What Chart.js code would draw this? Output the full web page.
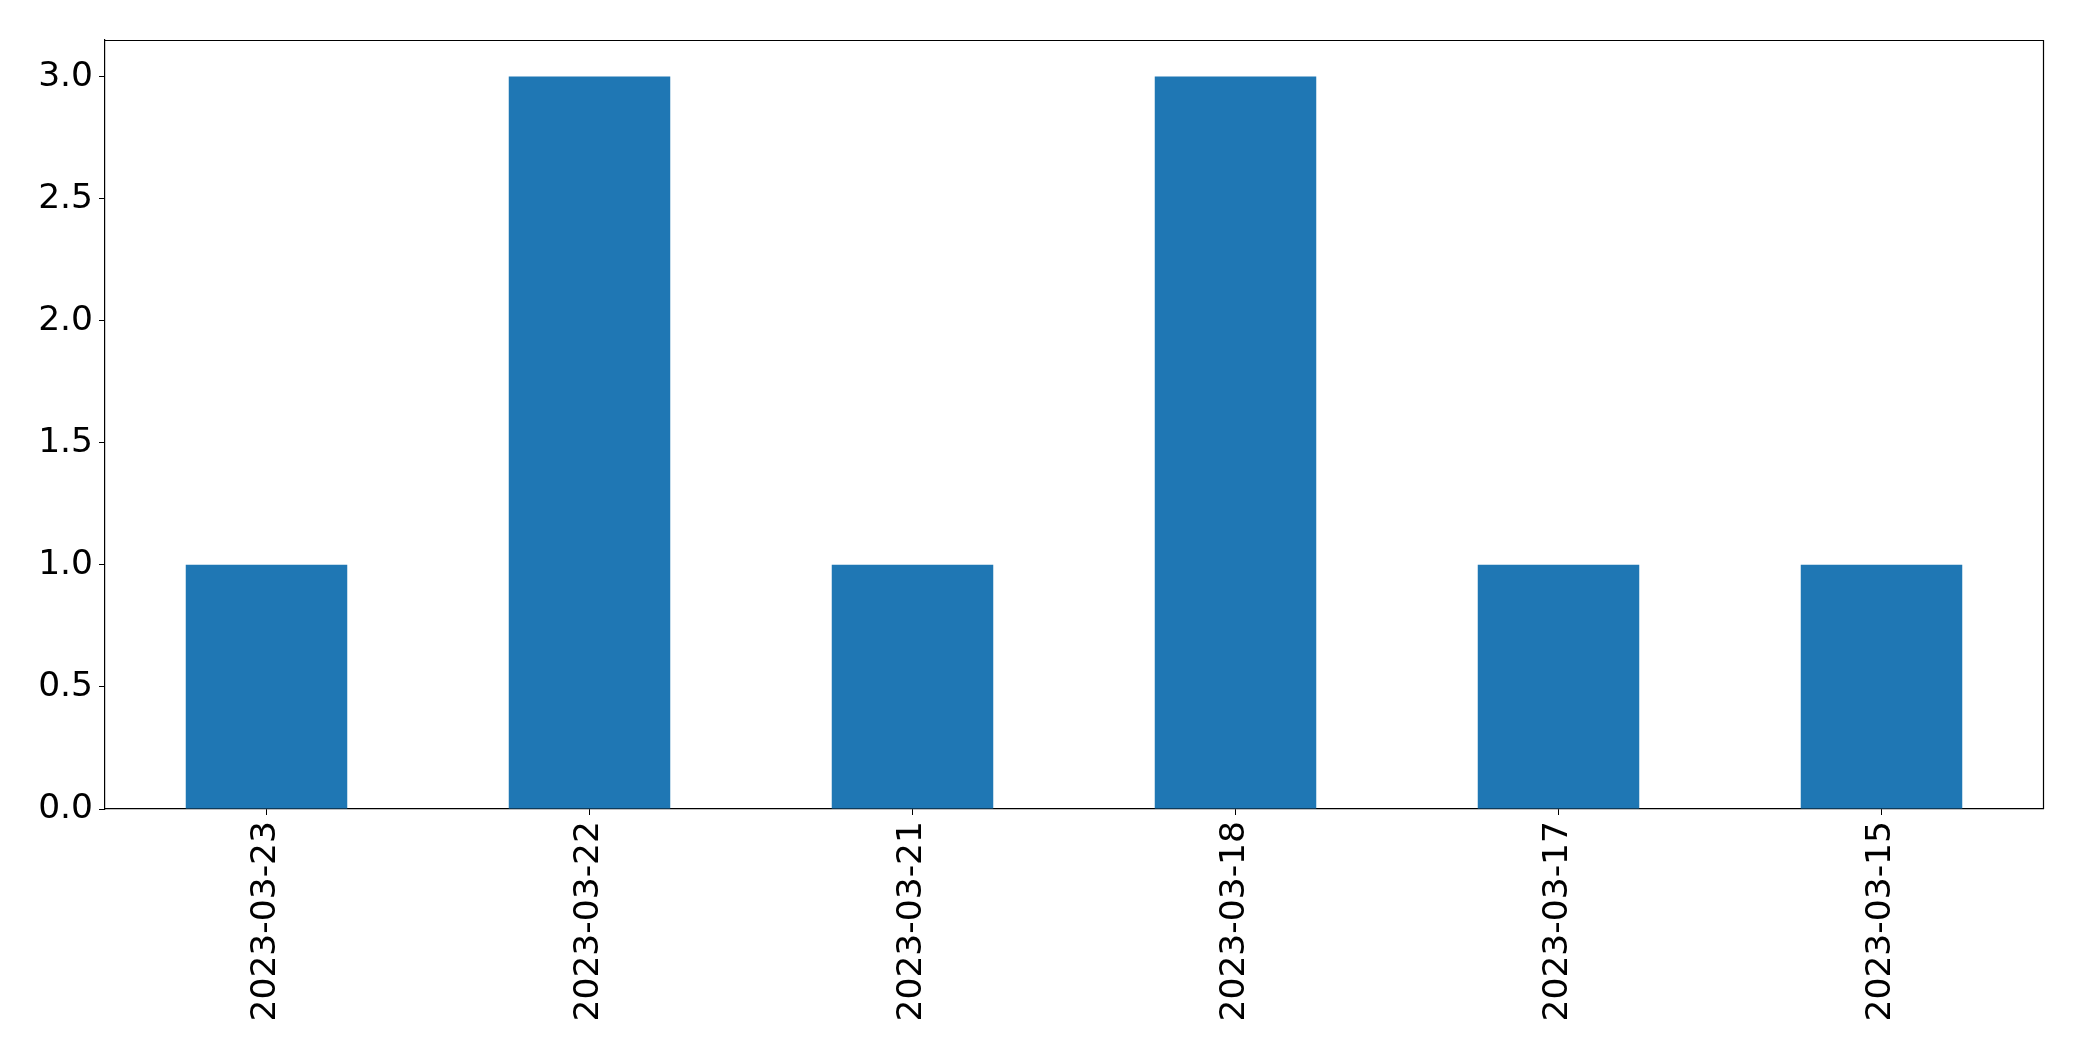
<!DOCTYPE html>
<html>
<head>
<meta charset="utf-8">
<script src="https://cdn.jsdelivr.net/npm/chart.js@4/dist/chart.umd.min.js"></script>
<style>
  body { margin: 0; background: #fff; }
  canvas { display: block; }
</style>
</head>
<body>
<canvas id="chart" width="2082" height="1061"></canvas>
<script>
var dates = ["2023-03-23", "2023-03-22", "2023-03-21", "2023-03-18", "2023-03-17", "2023-03-15"];
var counts = [1, 3, 1, 3, 1, 1];
var yTicks = [0, 0.5, 1, 1.5, 2, 2.5, 3];

// draws the top and right edges of the frame
var frameBox = {
	id: 'frameBox',
	afterDraw: function(chart) {
		var a = chart.chartArea;
		var ctx = chart.ctx;
		ctx.save();
		ctx.strokeStyle = '#000';
		ctx.lineWidth = 1.2;
		ctx.beginPath();
		ctx.moveTo(a.left, a.top + 0.5);
		ctx.lineTo(a.right + 0.5, a.top + 0.5);
		ctx.lineTo(a.right + 0.5, a.bottom);
		ctx.stroke();
		ctx.restore();
	}
};

var ctx = document.getElementById("chart");
var chart = new Chart(ctx, {
	type: 'bar',
	data: {
		labels: dates,
		datasets: [{
			data: counts,
			backgroundColor: '#1f77b4',
			borderWidth: 0,
			categoryPercentage: 1.0,
			barPercentage: 0.5
		}]
	},
	options: {
		responsive: false,
		animation: false,
		layout: {
			padding: { top: 40, right: 39, left: 0, bottom: 0 }
		},
		plugins: {
			legend: { display: false },
			tooltip: { enabled: false }
		},
		scales: {
			x: {
				grid: {
					display: true,
					offset: false,
					drawOnChartArea: false,
					drawTicks: true,
					tickLength: 6,
					color: '#000'
				},
				border: { display: true, color: '#000', width: 1.2 },
				ticks: {
					minRotation: 90,
					maxRotation: 90,
					padding: 6,
					color: '#000',
					font: { family: 'DejaVu Sans', size: 34.5 }
				},
				afterFit: function(axis) { axis.height = 252; }
			},
			y: {
				min: 0,
				max: 3.15,
				grid: {
					display: true,
					drawOnChartArea: false,
					drawTicks: true,
					tickLength: 6,
					color: '#000'
				},
				border: { display: true, color: '#000', width: 1.2 },
				ticks: {
					stepSize: 0.5,
					includeBounds: false,
					padding: 6,
					color: '#000',
					font: { family: 'DejaVu Sans', size: 34.5 },
					callback: function(v) { return Number(v).toFixed(1); }
				},
				afterBuildTicks: function(axis) {
					axis.ticks = yTicks.map(function(v) { return { value: v }; });
				},
				afterFit: function(axis) { axis.width = 105; }
			}
		}
	},
	plugins: [frameBox]
});
</script>
</body>
</html>
